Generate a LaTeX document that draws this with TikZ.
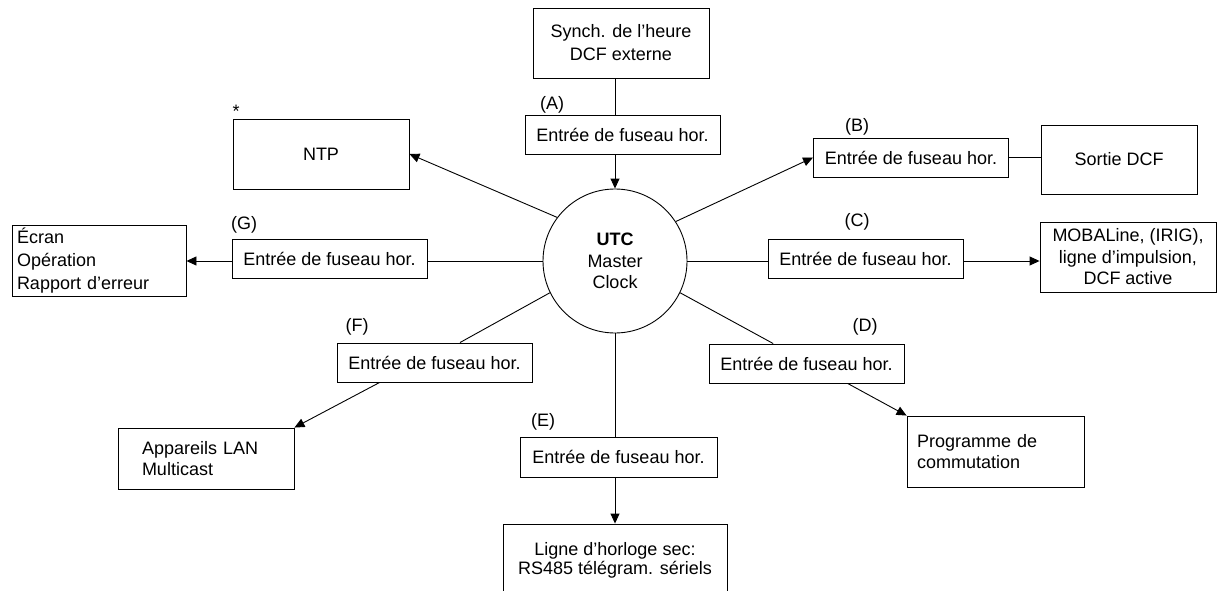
\documentclass[tikz,border=0pt]{standalone}
\usepackage{fontspec}
\setmainfont{Liberation Sans}
\usetikzlibrary{arrows.meta,calc}
\begin{document}
\begin{tikzpicture}[x=1pt,y=-1pt,
  every node/.style={font=\fontsize{18}{21.5}\selectfont},
  box/.style={draw,line width=0.9pt,inner sep=0pt,align=center},
  tz/.style={box,minimum width=195pt,minimum height=39pt},
  lbl/.style={inner sep=0pt},
  ln/.style={line width=0.9pt},
  arr/.style={ln,-{Triangle[length=10pt,width=9pt]}}]
\useasboundingbox (0,0) rectangle (1217,591);
\clip (0,0) rectangle (1217,591);
% centre
\node[draw,circle,line width=0.9pt,minimum size=144pt,inner sep=0pt,align=center] (clk) at (615,261) {\textbf{UTC}\\Master\\Clock};
% top
\node[box,minimum width=176pt,minimum height=70pt,font=\fontsize{18}{23}\selectfont] (top) at (621,43) {Synch. de l’heure\\DCF externe};
\node[tz] (a) at (622.5,134.5) {Entrée de fuseau hor.};
\node[lbl] (la) at (552,105) {(A)};
% NTP
\node[box,minimum width=176pt,minimum height=70pt] (ntp) at (321,154) {NTP};
\node[lbl] (star) at (236,111) {*};
% B
\node[tz] (b) at (911,157.5) {Entrée de fuseau hor.};
\node[lbl] (lb) at (857,127) {(B)};
\node[box,minimum width=156pt,minimum height=69pt] (sortie) at (1119,159.5) {Sortie DCF};
% G
\node[tz] (g) at (329.5,259) {Entrée de fuseau hor.};
\node[lbl] (lg) at (244,225) {(G)};
\node[box,text width=164pt,inner xsep=5pt,minimum height=71pt,align=left,font=\fontsize{18}{23}\selectfont] (ecran) at (99,260.5) {Écran\\Opération\\Rapport d’erreur};
% C
\node[tz] (c) at (865.5,259) {Entrée de fuseau hor.};
\node[lbl] (lc) at (857,222) {(C)};
\node[box,minimum width=176pt,minimum height=70pt] (mob) at (1128,257) {MOBALine, (IRIG),\\ligne d’impulsion,\\DCF active};
% D
\node[tz] (d) at (806.5,363.5) {Entrée de fuseau hor.};
\node[lbl] (ld) at (865,327) {(D)};
\node[box,text width=157pt,inner xsep=10pt,minimum height=71pt,align=left] (prog) at (995.5,451.5) {Programme de\\commutation};
% F
\node[tz] (f) at (434.5,362.5) {Entrée de fuseau hor.};
\node[lbl] (lf) at (357,327) {(F)};
\node[box,text width=128pt,inner xsep=24pt,minimum height=61pt,align=left,font=\fontsize{18}{20.5}\selectfont] (app) at (206,458.5) {Appareils LAN\\Multicast};
% E
\node[tz,minimum width=197pt,minimum height=40pt] (e) at (618.5,457) {Entrée de fuseau hor.};
\node[lbl] (le) at (543,422) {(E)};
\node[box,minimum width=224pt,minimum height=73pt,font=\fontsize{18}{19.5}\selectfont] (bot) at (615,560.5) {Ligne d’horloge sec:\\RS485 télégram. sériels};
% connectors
\draw[ln] (clk |- top.south) -- (clk |- a.north);
\draw[arr] (clk |- a.south) -- (clk.north);
\draw[arr] (clk.143) -- (ntp.east);
\draw[arr] (clk.33) -- (b.west);
\draw[ln] (b.east) -- (b.east -| sortie.west);
\draw[ln] (clk.west) -- (clk.west -| g.east);
\draw[arr] (g.west |- clk) -- (ecran.east |- clk);
\draw[ln] (clk.east) -- (clk.east -| c.west);
\draw[arr] (c.east |- clk) -- (mob.west |- clk);
\draw[ln] (clk.-26) -- ($(d.north west)!0.33!(d.north east)$);
\draw[arr] ($(d.south west)!0.71!(d.south east)$) -- (prog.north west);
\draw[ln] (clk.206) -- ($(f.north west)!0.63!(f.north east)$);
\draw[arr] ($(f.south west)!0.22!(f.south east)$) -- (app.north east);
\draw[ln] (clk.south) -- (clk |- e.north);
\draw[arr] (clk |- e.south) -- (clk |- bot.north);
\end{tikzpicture}
\end{document}
